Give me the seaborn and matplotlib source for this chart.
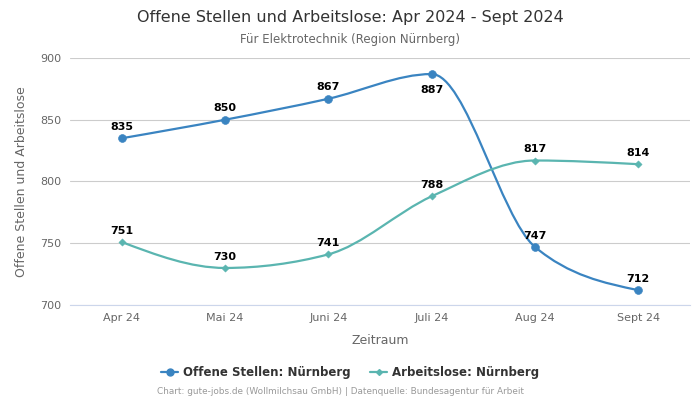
import numpy as np
import matplotlib
matplotlib.use("Agg")
import matplotlib.pyplot as plt
from matplotlib.path import Path
from matplotlib.patches import PathPatch
from matplotlib.lines import Line2D
import seaborn as sns

months = ["Apr 24", "Mai 24", "Juni 24", "Juli 24", "Aug 24", "Sept 24"]
offene_stellen = [835, 850, 867, 887, 747, 712]
arbeitslose = [751, 730, 741, 788, 817, 814]

BLUE = "#3a84c1"
TEAL = "#5ab5b0"


def sign(v):
    return -1.0 if v < 0 else 1.0


def monotone_path(xs, ys):
    # same smoothing as d3 curveMonotoneX
    n = len(xs)
    t = [0.0] * n
    for i in range(1, n - 1):
        h0 = xs[i] - xs[i - 1]
        h1 = xs[i + 1] - xs[i]
        s0 = (ys[i] - ys[i - 1]) / h0
        s1 = (ys[i + 1] - ys[i]) / h1
        p = (s0 * h1 + s1 * h0) / (h0 + h1)
        t[i] = (sign(s0) + sign(s1)) * min(abs(s0), abs(s1), 0.5 * abs(p)) or 0.0
    h = xs[1] - xs[0]
    t[0] = (3 * (ys[1] - ys[0]) / h - t[1]) / 2
    h = xs[-1] - xs[-2]
    t[-1] = (3 * (ys[-1] - ys[-2]) / h - t[-2]) / 2
    verts = [(xs[0], ys[0])]
    codes = [Path.MOVETO]
    for i in range(n - 1):
        dx = (xs[i + 1] - xs[i]) / 3
        verts += [(xs[i] + dx, ys[i] + dx * t[i]),
                  (xs[i + 1] - dx, ys[i + 1] - dx * t[i + 1]),
                  (xs[i + 1], ys[i + 1])]
        codes += [Path.CURVE4] * 3
    return Path(verts, codes)


sns.set_style("white")
plt.rcParams["font.family"] = ["DejaVu Sans"]

fig = plt.figure(figsize=(7, 4), dpi=100)
ax = fig.add_axes([0.1, 0.2375, 0.8857, 0.6175])

x = list(range(len(months)))

for vals, color in [(offene_stellen, BLUE), (arbeitslose, TEAL)]:
    ax.add_patch(PathPatch(monotone_path(x, vals), facecolor="none",
                           edgecolor=color, lw=1.6, zorder=3))

sns.scatterplot(x=x, y=offene_stellen, ax=ax, color=BLUE, marker="o", s=32,
                edgecolor=BLUE, zorder=4, legend=False)
sns.scatterplot(x=x, y=arbeitslose, ax=ax, color=TEAL, marker="D", s=14,
                edgecolor=TEAL, zorder=4, legend=False)

for i, v in enumerate(offene_stellen):
    below = i == 3
    ax.annotate(str(v), (i, v), xytext=(0, -14 if below else 6),
                textcoords="offset points", ha="center", fontsize=8,
                fontweight="bold", color="black", zorder=5)
for i, v in enumerate(arbeitslose):
    ax.annotate(str(v), (i, v), xytext=(0, 6), textcoords="offset points",
                ha="center", fontsize=8, fontweight="bold", color="black",
                zorder=5)

ax.set_xlim(-0.5, 5.5)
ax.set_ylim(700, 900)
ax.set_yticks([700, 750, 800, 850, 900])
ax.set_xticks(x)
ax.set_xticklabels(months)
ax.yaxis.grid(True, color="#cccccc", lw=0.8)
ax.set_axisbelow(True)
for s in ["top", "right", "left"]:
    ax.spines[s].set_visible(False)
ax.spines["bottom"].set_color("#ccd6eb")
ax.tick_params(axis="both", length=0, labelsize=8, colors="#666666", pad=6)
ax.set_xlabel("Zeitraum", fontsize=9, color="#666666", labelpad=8)
ax.set_ylabel("Offene Stellen und Arbeitslose", fontsize=9, color="#666666",
              labelpad=9)

fig.text(0.5, 0.957, "Offene Stellen und Arbeitslose: Apr 2024 - Sept 2024",
         ha="center", va="center", fontsize=11.5, color="#333333")
fig.text(0.5, 0.902, "Für Elektrotechnik (Region Nürnberg)",
         ha="center", va="center", fontsize=8.5, color="#666666")

handles = [
    Line2D([0], [0], color=BLUE, marker="o", markersize=5, lw=1.6),
    Line2D([0], [0], color=TEAL, marker="D", markersize=3, lw=1.6),
]
leg = fig.legend(handles, ["Offene Stellen: Nürnberg", "Arbeitslose: Nürnberg"],
                 loc="center", bbox_to_anchor=(0.5, 0.068), ncol=2,
                 frameon=False, handlelength=1.4, handletextpad=0.4,
                 columnspacing=1.7,
                 prop={"size": 8.5, "weight": "bold"})
for t in leg.get_texts():
    t.set_color("#333333")

fig.text(0.486, 0.02,
         "Chart: gute-jobs.de (Wollmilchsau GmbH) | Datenquelle: Bundesagentur für Arbeit",
         ha="center", va="center", fontsize=6.4, color="#999999")

fig.savefig("out.png", dpi=100)
